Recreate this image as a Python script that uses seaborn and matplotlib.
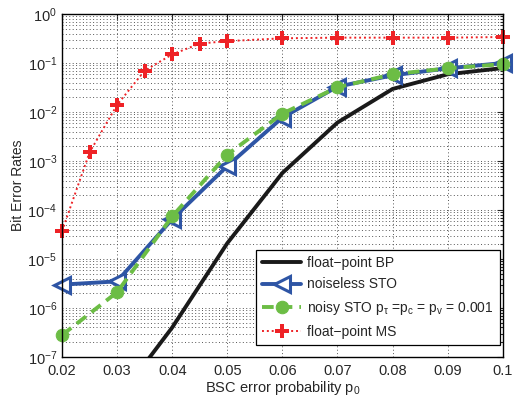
import numpy as np
import pandas as pd
import matplotlib
matplotlib.use('Agg')
import matplotlib.pyplot as plt
import seaborn as sns
from matplotlib.ticker import LogLocator, FixedLocator, NullFormatter

# ── Data ──────────────────────────────────────────────────
p0_bp = [0.03, 0.04, 0.05, 0.06, 0.07, 0.08, 0.09, 0.10]
ber_bp = [1.3e-8, 4.0e-7, 2.1e-5, 5.7e-4, 6.1e-3, 2.96e-2, 5.9e-2, 7.9e-2]

p0_sto = [0.02, 0.03, 0.04, 0.05, 0.06, 0.07, 0.08, 0.09, 0.10]
ber_noiseless = [3.0e-6, 3.5e-6, 6.5e-5, 7.9e-4, 7.7e-3, 3.3e-2, 5.6e-2, 7.8e-2, 1.0e-1]
ber_noisy = [2.8e-7, 2.1e-6, 7.4e-5, 1.35e-3, 9.3e-3, 3.2e-2, 5.9e-2, 7.8e-2, 9.5e-2]

p0_ms = [0.02, 0.025, 0.03, 0.035, 0.04, 0.045, 0.05, 0.06, 0.07, 0.08, 0.09, 0.10]
ber_ms = [3.7e-5, 1.5e-3, 1.4e-2, 7.0e-2, 0.15, 0.25, 0.28, 0.32, 0.33, 0.33, 0.33, 0.34]

x_ticks = [0.02, 0.03, 0.04, 0.05, 0.06, 0.07, 0.08, 0.09, 0.1]
x_ticklabels = ['0.02', '0.03', '0.04', '0.05', '0.06', '0.07', '0.08', '0.09', '0.1']

sns.set_style('white')
plt.rcParams['font.family'] = ['Liberation Sans', 'DejaVu Sans']
plt.rcParams['mathtext.fontset'] = 'custom'
plt.rcParams['mathtext.rm'] = 'Liberation Sans'
plt.rcParams['mathtext.it'] = 'Liberation Sans'

fig = plt.figure(figsize=(5.21, 3.96), dpi=100)
ax = fig.add_axes([0.119, 0.0985, 0.846, 0.866])

# ── Curves ───────────────────────────────────────────────
sns.lineplot(x=p0_bp, y=ber_bp, ax=ax, color='#1a1a1a', lw=2.8,
             label='float\u2212point BP')
sns.lineplot(x=p0_sto, y=ber_noiseless, ax=ax, color='#2e55a5', lw=2.8,
             marker='<', markersize=11, markerfacecolor='white',
             markeredgecolor='#2e55a5', markeredgewidth=2.2,
             label='noiseless STO', clip_on=False)
sns.lineplot(x=p0_sto, y=ber_noisy, ax=ax, color='#6cbd45', lw=2.8,
             linestyle=(0, (3, 1.8)), marker='o', markersize=9,
             markerfacecolor='#6cbd45', markeredgecolor='#6cbd45',
             label=r'noisy STO p$_\tau$ =p$_c$ = p$_v$ = 0.001', clip_on=False)
sns.lineplot(x=p0_ms, y=ber_ms, ax=ax, color='#ee2226', lw=1.4,
             linestyle=(0, (1, 1.5)), marker='P', markersize=10,
             markeredgewidth=0, markerfacecolor='#ee2226',
             label='float\u2212point MS', clip_on=False)

# ── Axes ─────────────────────────────────────────────────
ax.set_yscale('log')
ax.set_xlim(0.02, 0.1)
ax.set_ylim(1e-7, 1)
ax.xaxis.set_major_locator(FixedLocator(x_ticks))
ax.set_xticklabels(x_ticklabels)
ax.yaxis.set_minor_locator(LogLocator(base=10, subs=np.arange(2, 10), numticks=20))
ax.yaxis.set_minor_formatter(NullFormatter())
ax.set_yticks([10.0 ** k for k in range(-7, 1)])
ax.set_yticklabels([f'10$^{{{k}}}$' for k in range(-7, 1)])

ax.grid(True, which='major', linestyle=(0, (1, 2.5)), color='#555555', lw=0.7)
ax.grid(True, which='minor', axis='y', linestyle=(0, (1, 2.5)), color='#555555', lw=0.7)

ax.tick_params(axis='both', which='both', direction='in', labelsize=10.5,
               top=True, right=True, length=4, width=0.8)
ax.tick_params(axis='x', pad=5)
ax.tick_params(which='minor', length=2)
for s in ax.spines.values():
    s.set_color('black')
    s.set_linewidth(1.0)

ax.set_xlabel('BSC error probability p$_0$', fontsize=10.5, labelpad=1)
ax.set_ylabel('Bit Error Rates', fontsize=10, labelpad=2)

leg = ax.legend(loc='lower right', bbox_to_anchor=(0.993, 0.035),
                fontsize=10, frameon=True, fancybox=False,
                edgecolor='black', framealpha=1, borderaxespad=0,
                handlelength=2.8, labelspacing=0.55, borderpad=0.45,
                handletextpad=0.4)
leg.get_frame().set_linewidth(0.9)

fig.savefig('out.png', dpi=100)
